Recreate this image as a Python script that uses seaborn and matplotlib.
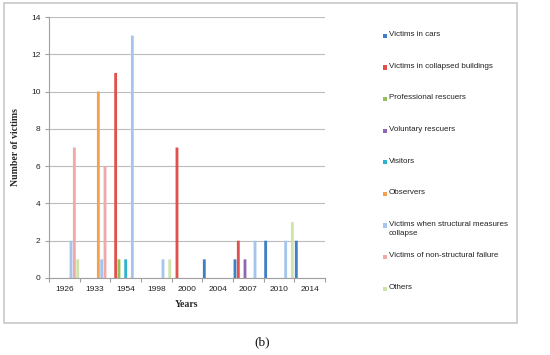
import numpy as np
import pandas as pd
import matplotlib
matplotlib.use("Agg")
import matplotlib.pyplot as plt
import matplotlib.patches as mpatches
import seaborn as sns

years = ["1926", "1933", "1954", "1998", "2000", "2004", "2007", "2010", "2014"]
series = [
    "Victims in cars",
    "Victims in collapsed buildings",
    "Professional rescuers",
    "Voluntary rescuers",
    "Visitors",
    "Observers",
    "Victims when structural measures collapse",
    "Victims of non-structural failure",
    "Others",
]
cars = [0, 0, 0, 0, 0, 1, 1, 2, 2]
collapsed = [0, 0, 11, 0, 7, 0, 2, 0, 0]
professional = [0, 0, 1, 0, 0, 0, 0, 0, 0]
voluntary = [0, 0, 0, 0, 0, 0, 1, 0, 0]
visitors = [0, 0, 1, 0, 0, 0, 0, 0, 0]
observers = [0, 10, 0, 0, 0, 0, 0, 0, 0]
structural = [2, 1, 13, 1, 0, 0, 2, 2, 0]
nonstructural = [7, 6, 0, 0, 0, 0, 0, 0, 0]
others = [1, 0, 0, 1, 0, 0, 0, 3, 0]
values = [cars, collapsed, professional, voluntary, visitors, observers,
          structural, nonstructural, others]

colors = ["#3f7fc4", "#e0504c", "#92c158", "#8f67b0", "#2fb2cc",
          "#f4a04c", "#a6c5ec", "#f3a8a8", "#cfe4ad"]

rows = []
for s, vals in zip(series, values):
    for y, v in zip(years, vals):
        rows.append({"Year": y, "Series": s, "Value": v})
df = pd.DataFrame(rows)

sns.set_theme(style="white")
plt.rcParams["font.family"] = ["Liberation Sans", "DejaVu Sans"]

fig = plt.figure(figsize=(5.5, 3.55), dpi=100)
ax = fig.add_axes([49 / 550, 1 - 278 / 355, (325 - 49) / 550, (278 - 17) / 355])

sns.barplot(data=df, x="Year", y="Value", hue="Series", hue_order=series,
            order=years, palette=colors, width=0.98, gap=0.15,
            dodge=True, ax=ax, legend=False, saturation=1, linewidth=0)
for p in ax.patches:
    p.set_snap(False)

ax.set_ylim(0, 14)
ax.set_xlim(-0.5, len(years) - 0.5)
ax.set_yticks(range(0, 15, 2))
ax.yaxis.grid(True, color="#bcbcbc", linewidth=0.8)
ax.set_axisbelow(True)
for sp in ["top", "right"]:
    ax.spines[sp].set_visible(False)
for sp in ["left", "bottom"]:
    ax.spines[sp].set_color("#a0a0a0")
    ax.spines[sp].set_linewidth(0.8)

ax.set_xticks(np.arange(-0.5, len(years), 1), minor=True)
ax.tick_params(axis="x", which="major", length=0, labelsize=6, pad=6, colors="#222222")
ax.tick_params(axis="x", which="minor", length=3, color="#a0a0a0", width=0.8, direction="out", bottom=True)
ax.tick_params(axis="y", which="major", length=3, color="#a0a0a0", width=0.8,
               direction="out", left=True, labelsize=6, pad=3, colors="#222222")

ax.set_xlabel("Years", fontfamily="Liberation Serif", fontweight="bold", fontsize=7, labelpad=5)
ax.set_ylabel("Number of victims", fontfamily="Liberation Serif", fontweight="bold", fontsize=7, labelpad=8)

# legend (manual layout)
wrapped = {"Victims when structural measures collapse": "Victims when structural measures\ncollapse"}
y0 = 35.7
step = 31.6
for i, (s, c) in enumerate(zip(series, colors)):
    yy = y0 + i * step
    fig.patches.append(mpatches.Rectangle((383 / 550, 1 - (yy + 2.2) / 355), 4.2 / 550, 4.2 / 355,
                                          transform=fig.transFigure, facecolor=c, edgecolor="none"))
    fig.text(389 / 550, 1 - (yy - 4.5) / 355, wrapped.get(s, s), fontsize=5.8,
             va="top", ha="left", color="#222222", linespacing=1.5)

# border
fig.patches.append(mpatches.Rectangle((4 / 550, 1 - 323 / 355), 513 / 550, 320 / 355,
                                      transform=fig.transFigure, facecolor="none",
                                      edgecolor="#c8c8c8", linewidth=1.2))
fig.text(262 / 550, 1 - 342 / 355, "(b)", fontfamily="Liberation Serif", fontsize=9.5,
         ha="center", va="center", color="#111111")

fig.savefig("out.png", dpi=100)
